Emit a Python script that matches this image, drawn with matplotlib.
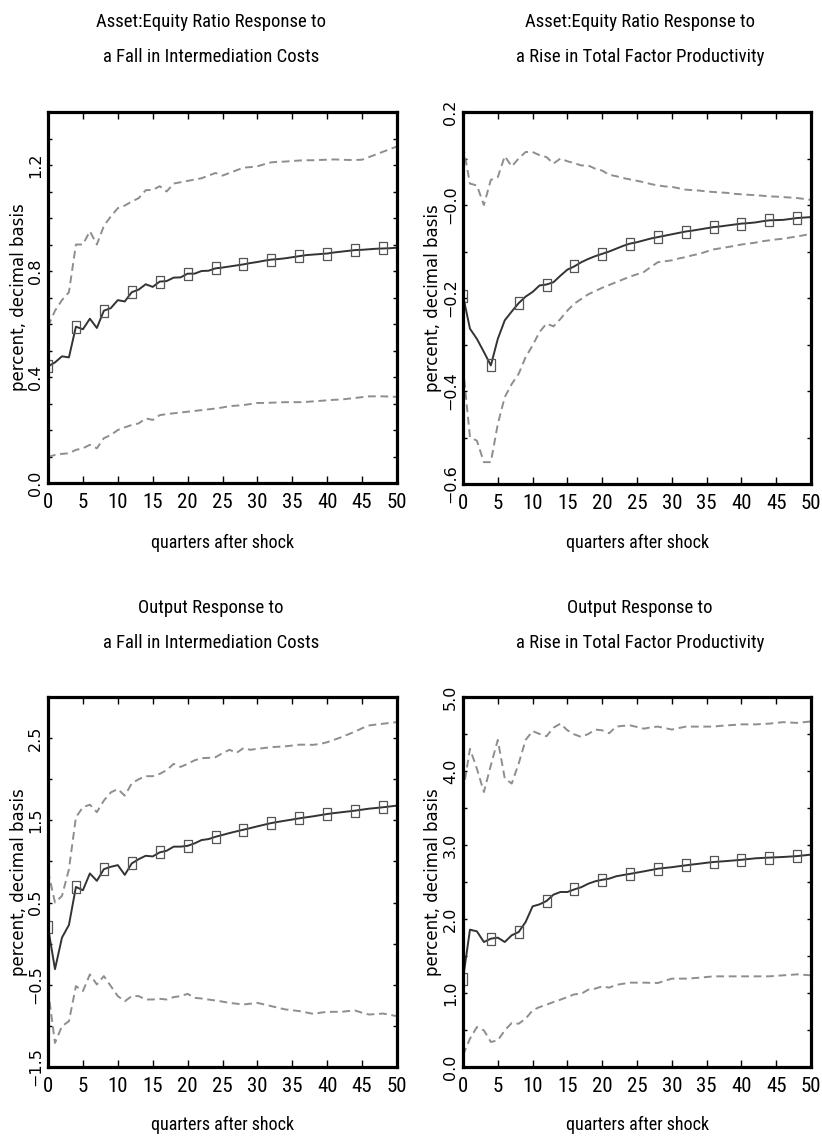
import matplotlib
matplotlib.use("Agg")
import matplotlib.pyplot as plt
from matplotlib.ticker import FixedLocator, FixedFormatter, MultipleLocator

# ---------------- data ----------------
quarters = list(range(51))

titles = [
    ["Asset:Equity Ratio Response to", "a Fall in Intermediation Costs"],
    ["Asset:Equity Ratio Response to", "a Rise in Total Factor Productivity"],
    ["Output Response to", "a Fall in Intermediation Costs"],
    ["Output Response to", "a Rise in Total Factor Productivity"],
]
xlabel_text = "quarters after shock"
ylabel_text = "percent, decimal basis"
xtick_values = [0, 5, 10, 15, 20, 25, 30, 35, 40, 45, 50]
xtick_labels = ["0", "5", "10", "15", "20", "25", "30", "35", "40", "45", "50"]

# Panel 1: Asset:Equity ratio, intermediation cost shock
ae_ic_mid = [0.44, 0.455, 0.478, 0.474, 0.59, 0.58, 0.62, 0.585, 0.65, 0.66,
             0.69, 0.685, 0.72, 0.73, 0.75, 0.74, 0.76, 0.762, 0.775, 0.776,
             0.79, 0.79, 0.80, 0.801, 0.81, 0.813, 0.817, 0.821, 0.825, 0.83,
             0.834, 0.839, 0.843, 0.845, 0.848, 0.852, 0.856, 0.86, 0.862, 0.864,
             0.866, 0.87, 0.873, 0.876, 0.879, 0.88, 0.882, 0.884, 0.885, 0.886,
             0.888]
ae_ic_hi = [0.59, 0.65, 0.69, 0.72, 0.90, 0.90, 0.95, 0.90, 0.97, 1.006,
            1.037, 1.047, 1.062, 1.075, 1.105, 1.106, 1.12, 1.10, 1.13, 1.135,
            1.14, 1.145, 1.15, 1.16, 1.17, 1.16, 1.17, 1.18, 1.19, 1.192,
            1.195, 1.203, 1.21, 1.212, 1.213, 1.215, 1.217, 1.218, 1.218, 1.219,
            1.22, 1.221, 1.22, 1.219, 1.219, 1.22, 1.23, 1.24, 1.25, 1.26,
            1.27]
ae_ic_lo = [0.098, 0.106, 0.11, 0.112, 0.125, 0.131, 0.144, 0.131, 0.169, 0.181,
            0.20, 0.21, 0.219, 0.225, 0.244, 0.238, 0.256, 0.26, 0.263, 0.266,
            0.269, 0.272, 0.275, 0.278, 0.281, 0.285, 0.29, 0.292, 0.294, 0.298,
            0.302, 0.302, 0.303, 0.304, 0.305, 0.305, 0.305, 0.306, 0.308, 0.31,
            0.312, 0.314, 0.315, 0.318, 0.321, 0.324, 0.327, 0.327, 0.327, 0.326,
            0.325]

# Panel 2: Asset:Equity ratio, TFP shock
ae_tfp_mid = [-0.195, -0.266, -0.288, -0.316, -0.345, -0.288, -0.248, -0.229, -0.211, -0.197,
              -0.187, -0.173, -0.171, -0.166, -0.152, -0.139, -0.132, -0.123, -0.116, -0.110,
              -0.105, -0.100, -0.094, -0.088, -0.083, -0.080, -0.076, -0.072, -0.069, -0.066,
              -0.063, -0.060, -0.057, -0.055, -0.0525, -0.050, -0.0475, -0.046, -0.044, -0.042,
              -0.040, -0.039, -0.0375, -0.035, -0.033, -0.0325, -0.032, -0.030, -0.028, -0.027,
              -0.026]
ae_tfp_hi = [0.128, 0.046, 0.042, 0.0, 0.054, 0.060, 0.105, 0.083, 0.100, 0.114,
             0.114, 0.107, 0.103, 0.089, 0.100, 0.094, 0.090, 0.085, 0.085, 0.078,
             0.074, 0.065, 0.062, 0.058, 0.055, 0.052, 0.049, 0.045, 0.042, 0.040,
             0.039, 0.036, 0.033, 0.032, 0.031, 0.029, 0.028, 0.027, 0.026, 0.024,
             0.023, 0.022, 0.021, 0.020, 0.0185, 0.018, 0.017, 0.016, 0.015, 0.013,
             0.011]
ae_tfp_lo = [-0.349, -0.499, -0.507, -0.553, -0.553, -0.471, -0.413, -0.385, -0.363, -0.327,
             -0.302, -0.273, -0.255, -0.261, -0.245, -0.227, -0.212, -0.202, -0.192, -0.185,
             -0.178, -0.172, -0.166, -0.160, -0.154, -0.149, -0.144, -0.133, -0.123, -0.121,
             -0.119, -0.115, -0.112, -0.108, -0.105, -0.100, -0.0955, -0.093, -0.0905, -0.088,
             -0.085, -0.083, -0.081, -0.078, -0.076, -0.074, -0.0725, -0.070, -0.0675, -0.065,
             -0.062]

# Panel 3: Output, intermediation cost shock
out_ic_mid = [0.20, -0.31, 0.073, 0.228, 0.69, 0.65, 0.854, 0.764, 0.906, 0.935,
              0.955, 0.837, 0.976, 1.028, 1.069, 1.061, 1.11, 1.13, 1.18, 1.18,
              1.19, 1.22, 1.26, 1.272, 1.30, 1.322, 1.345, 1.366, 1.386, 1.406,
              1.427, 1.447, 1.467, 1.482, 1.496, 1.51, 1.524, 1.537, 1.549, 1.563,
              1.577, 1.588, 1.598, 1.608, 1.618, 1.63, 1.642, 1.65, 1.659, 1.669,
              1.679]
out_ic_hi = [0.886, 0.50, 0.58, 0.906, 1.537, 1.66, 1.69, 1.60, 1.74, 1.84,
             1.88, 1.80, 1.95, 2.00, 2.037, 2.037, 2.065, 2.11, 2.187, 2.15,
             2.187, 2.23, 2.256, 2.26, 2.268, 2.317, 2.358, 2.32, 2.378, 2.358,
             2.37, 2.38, 2.39, 2.395, 2.40, 2.41, 2.42, 2.42, 2.418, 2.43,
             2.45, 2.48, 2.51, 2.545, 2.58, 2.62, 2.654, 2.665, 2.675, 2.685,
             2.695]
out_ic_lo = [-0.557, -1.207, -1.004, -0.943, -0.516, -0.577, -0.374, -0.496, -0.394, -0.516,
             -0.638, -0.70, -0.638, -0.638, -0.679, -0.679, -0.671, -0.679, -0.65, -0.638,
             -0.61, -0.659, -0.667, -0.68, -0.691, -0.705, -0.72, -0.73, -0.74, -0.73,
             -0.72, -0.74, -0.76, -0.78, -0.80, -0.81, -0.82, -0.837, -0.854, -0.84,
             -0.829, -0.829, -0.829, -0.82, -0.813, -0.84, -0.862, -0.856, -0.85, -0.866,
             -0.882]

# Panel 4: Output, TFP shock
out_tfp_mid = [1.19, 1.856, 1.833, 1.689, 1.734, 1.748, 1.689, 1.78, 1.824, 1.96,
               2.171, 2.198, 2.243, 2.329, 2.365, 2.365, 2.40, 2.43, 2.477, 2.51,
               2.53, 2.545, 2.577, 2.594, 2.61, 2.627, 2.644, 2.662, 2.68, 2.69,
               2.70, 2.713, 2.725, 2.737, 2.748, 2.76, 2.77, 2.777, 2.784, 2.792,
               2.80, 2.81, 2.82, 2.825, 2.83, 2.834, 2.838, 2.844, 2.85, 2.86,
               2.87]
out_tfp_hi = [3.716, 4.30, 4.03, 3.716, 4.077, 4.42, 3.90, 3.83, 4.10, 4.42,
              4.54, 4.50, 4.47, 4.585, 4.64, 4.55, 4.495, 4.46, 4.50, 4.56,
              4.55, 4.51, 4.60, 4.61, 4.617, 4.595, 4.572, 4.59, 4.60, 4.58,
              4.56, 4.58, 4.60, 4.60, 4.60, 4.60, 4.60, 4.61, 4.617, 4.623,
              4.63, 4.63, 4.63, 4.635, 4.64, 4.65, 4.66, 4.655, 4.65, 4.66,
              4.67]
out_tfp_lo = [0.158, 0.383, 0.54, 0.495, 0.338, 0.36, 0.495, 0.595, 0.585, 0.653,
              0.766, 0.81, 0.842, 0.878, 0.91, 0.946, 0.982, 0.99, 1.045, 1.059,
              1.09, 1.072, 1.11, 1.125, 1.14, 1.14, 1.14, 1.137, 1.135, 1.165,
              1.194, 1.194, 1.194, 1.2, 1.207, 1.216, 1.225, 1.225, 1.225, 1.225,
              1.225, 1.225, 1.225, 1.225, 1.225, 1.232, 1.239, 1.245, 1.252, 1.245,
              1.239]

mids = [ae_ic_mid, ae_tfp_mid, out_ic_mid, out_tfp_mid]
his = [ae_ic_hi, ae_tfp_hi, out_ic_hi, out_tfp_hi]
los = [ae_ic_lo, ae_tfp_lo, out_ic_lo, out_tfp_lo]

ylims = [(0.0, 1.4), (-0.6, 0.2), (-1.5, 3.0), (0.0, 5.0)]
ytick_values = [[0.0, 0.4, 0.8, 1.2],
                [-0.6, -0.4, -0.2, 0.0, 0.2],
                [-1.5, -0.5, 0.5, 1.5, 2.5],
                [0.0, 1.0, 2.0, 3.0, 4.0, 5.0]]
ytick_labels = [["0.0", "0.4", "0.8", "1.2"],
                ["\u22120.6", "\u22120.4", "\u22120.2", "\u22120.0", "0.2"],
                ["\u22121.5", "\u22120.5", "0.5", "1.5", "2.5"],
                ["0.0", "1.0", "2.0", "3.0", "4.0", "5.0"]]
yminor_step = [0.1, 0.1, 0.5, 0.5]

# ---------------- layout / style ----------------
W, H = 822, 1142
NARROW = ['Liberation Sans Narrow', 'Roboto Condensed', 'Open Sans Condensed',
          'DejaVu Sans Condensed', 'Liberation Sans']
WIDE = ['DejaVu Sans']

fig = plt.figure(figsize=(W / 100, H / 100), dpi=100)

# axes boxes in pixels: left, top, right, bottom
boxes = [(48, 112, 397, 483), (463, 112, 811, 484),
         (48, 697, 397, 1067), (463, 697, 811, 1067)]
title_y = [(22, 57), (22, 57), (608, 643), (608, 643)]
title_x = [211, 640, 211, 640]
xlabel_y = [543, 543, 1125, 1125]
ylabel_x = [19, 433, 19, 433]

rect_marker = [(-0.36, -0.5), (0.36, -0.5), (0.36, 0.5), (-0.36, 0.5), (-0.36, -0.5)]

for i in range(4):
    l, t, r, b = boxes[i]
    ax = fig.add_axes([l / W, 1 - b / H, (r - l) / W, (b - t) / H])
    ax.plot(quarters, his[i], color='#8e8e8e', lw=1.4, ls=(0, (4, 2.4)))
    ax.plot(quarters, los[i], color='#8e8e8e', lw=1.4, ls=(0, (4, 2.4)))
    ax.plot(quarters, mids[i], color='#333333', lw=1.4, marker=rect_marker,
            markevery=4, markersize=8, mfc='none', mec='#555555', mew=0.9)

    ax.set_xlim(0, 50)
    ax.set_ylim(*ylims[i])
    ax.xaxis.set_major_locator(FixedLocator(xtick_values))
    ax.xaxis.set_major_formatter(FixedFormatter(xtick_labels))
    ax.yaxis.set_major_locator(FixedLocator(ytick_values[i]))
    ax.yaxis.set_major_formatter(FixedFormatter(ytick_labels[i]))
    ax.yaxis.set_minor_locator(MultipleLocator(yminor_step[i]))

    ax.tick_params(axis='x', which='major', direction='in', top=True, bottom=True,
                   length=5, width=1, pad=7.5, labelsize=15)
    ax.tick_params(axis='y', which='both', direction='in', left=True, right=True,
                   length=3, width=1, pad=3.5, labelsize=11.5, labelrotation=90)
    for lab in ax.get_xticklabels():
        lab.set_family(NARROW)
    for lab in ax.get_yticklabels():
        lab.set_family(WIDE)
        lab.set_va('center')

    for sp in ax.spines.values():
        sp.set_linewidth(2.3)

    ax.set_ylabel(ylabel_text, fontsize=12, family=WIDE, ha='center', va='center')
    ax.yaxis.set_label_coords((ylabel_x[i] - l) / (r - l), 0.5)
    ax.set_xlabel(xlabel_text, fontsize=13, family=NARROW, va='center')
    ax.xaxis.set_label_coords(0.5, -(xlabel_y[i] - b) / (b - t))

    for line, ty in zip(titles[i], title_y[i]):
        fig.text(title_x[i] / W, 1 - ty / H, line, ha='center', va='center',
                 fontsize=13.5, family=NARROW)

fig.savefig("out.png", dpi=100)
